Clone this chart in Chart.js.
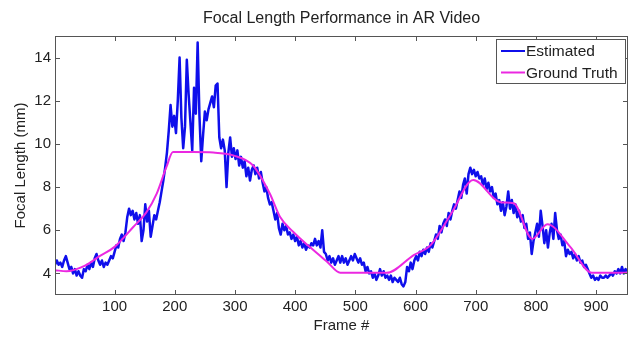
<!DOCTYPE html>
<html>
<head>
<meta charset="utf-8">
<title>Focal Length Performance in AR Video</title>
<script src="https://cdn.jsdelivr.net/npm/chart.js@4.4.1/dist/chart.umd.min.js"></script>
<style>
    html, body { margin: 0; padding: 0; background: #fff; }
    #wrap { width: 634px; height: 337px; }
</style>
</head>
<body>
<div id="wrap"><canvas id="focalChart" width="634" height="337"></canvas></div>
<script>
// Estimated focal length, every 3 frames starting at frame 1
const FRAME_START = 1;
const FRAME_STEP = 3;
const estimatedFocal = [
    4.4, 4.6, 4.4, 4.5, 4.3, 4.6, 4.8, 4.5, 4.2, 4.3,
    4.0, 4.2, 3.9, 4.1, 3.9, 3.8, 4.2, 4.1, 4.4, 4.2,
    4.5, 4.3, 4.7, 4.9, 4.6, 4.4, 4.6, 4.3, 4.5, 4.4,
    4.6, 4.8, 4.7, 5.0, 5.3, 5.2, 5.6, 5.8, 5.5, 5.9,
    6.6, 7.0, 6.7, 6.9, 6.5, 6.8, 6.3, 6.7, 5.5, 6.0,
    7.2, 6.4, 6.9, 5.7, 6.2, 6.7, 6.5, 6.9, 7.3, 7.8,
    8.3, 8.9, 9.6, 10.6, 11.8, 10.8, 11.3, 10.5, 12.0, 14.0,
    11.2, 9.8, 10.8, 13.9, 12.3, 11.0, 9.7, 12.6, 11.4, 14.7,
    11.3, 9.2, 10.4, 11.5, 11.1, 11.6, 11.9, 12.2, 11.7, 12.7,
    12.8, 10.3, 9.8, 10.2, 9.7, 8.0, 9.6, 10.3, 9.4, 9.8,
    9.3, 9.7, 9.0, 9.4, 8.9, 9.2, 8.5, 8.9, 8.3, 8.8,
    9.0, 8.6, 8.9, 8.4, 8.7, 8.2, 7.8, 8.0, 7.5, 7.2,
    7.3, 6.9, 6.5, 6.8, 6.1, 5.8, 6.3, 6.0, 6.2, 5.8,
    5.9, 5.6, 5.8, 5.5, 5.7, 5.3, 5.5, 5.2, 5.4, 5.1,
    5.3, 5.2, 5.4, 5.3, 5.6, 5.3, 5.5, 5.2, 6.0, 5.0,
    4.9, 4.6, 4.8, 4.5, 4.7, 4.4, 4.6, 4.8, 4.5, 4.8,
    4.5, 4.7, 4.4, 4.6, 4.8, 4.6, 4.9, 4.7, 4.5, 4.7,
    4.4, 4.5, 4.1, 4.3, 4.0, 4.1, 3.8, 4.0, 3.7, 3.9,
    4.2, 3.9, 4.1, 3.8, 3.9, 3.7, 3.9, 3.6, 3.8, 3.7,
    3.6, 3.8, 3.5, 3.4, 3.6, 4.3, 4.1, 4.5, 4.2, 4.6,
    4.8, 4.6, 5.0, 4.8, 5.1, 4.9, 5.2, 5.0, 5.4, 5.2,
    5.5, 5.8, 5.6, 6.2, 5.9, 6.3, 6.5, 6.2, 6.8, 6.5,
    6.9, 7.2, 7.0, 7.4, 7.8, 7.5, 8.1, 8.4, 7.7, 8.6,
    8.9, 8.6, 8.8, 8.5, 8.7, 8.4, 8.5, 8.1, 8.4, 7.9,
    8.2, 7.8, 8.0, 7.5, 7.7, 7.2, 7.4, 6.9, 7.3, 6.7,
    7.1, 7.8, 7.0, 7.4, 6.8, 7.2, 6.6, 6.9, 6.4, 6.7,
    6.1, 6.3, 5.6, 5.9, 4.9, 5.5, 5.9, 6.3, 5.7, 6.9,
    6.2, 5.4, 6.0, 5.2, 5.9, 6.3, 5.6, 6.8, 6.0, 5.6,
    5.8, 5.3, 5.5, 4.8, 5.1, 4.9, 5.0, 4.7, 4.9, 4.6,
    4.8, 4.5, 4.6, 4.3, 4.4, 4.2, 4.0, 3.8, 3.9, 3.7,
    3.8, 3.7, 3.9, 3.8, 3.8, 3.9, 3.8, 3.9, 4.0, 3.9,
    4.1, 4.0, 4.2, 4.0, 4.3, 4.0, 4.2, 4.1
];

// Ground truth is smooth, so a handful of key frames is enough
const truthFrames = [1, 20, 50, 75, 100, 131, 153, 170, 186, 197, 230, 264, 297, 330, 358, 375, 397, 424, 453, 475, 552, 597, 625, 660, 696, 741, 763, 794, 819, 857, 893, 953];
const truthFocal  = [4.15, 4.1, 4.35, 4.8, 5.23, 6.15, 6.84, 7.7, 8.92, 9.62, 9.62, 9.6, 9.47, 9.0, 7.69, 6.61, 5.92, 5.23, 4.54, 4.03, 4.03, 4.85, 5.31, 6.8, 8.33, 7.3, 7.25, 5.6, 6.28, 5.23, 4.03, 4.03];

const xTicks = [100, 200, 300, 400, 500, 600, 700, 800, 900];
const yTicks = [4, 6, 8, 10, 12, 14];
const seriesNames = ['Estimated', 'Ground Truth'];

const FONT = '"Liberation Sans", Arial, Helvetica, sans-serif';
const BLUE = 'rgb(15, 15, 235)';
const MAGENTA = 'rgb(235, 40, 225)';
const AXIS_GRAY = '#555';

// box, inward ticks, title and legend in the MATLAB look
const matlabFrame = {
    id: 'matlabFrame',
    afterDatasetsDraw(chart) {
        const { ctx, chartArea: a, scales: { x, y } } = chart;
        ctx.save();
        ctx.strokeStyle = AXIS_GRAY;
        ctx.lineWidth = 1;
        ctx.strokeRect(a.left + 0.5, a.top + 0.5, a.width - 1, a.height - 1);

        ctx.beginPath();
        xTicks.forEach(v => {
            const px = Math.round(x.getPixelForValue(v)) + 0.5;
            ctx.moveTo(px, a.bottom); ctx.lineTo(px, a.bottom - 5);
            ctx.moveTo(px, a.top); ctx.lineTo(px, a.top + 5);
        });
        yTicks.forEach(v => {
            const py = Math.round(y.getPixelForValue(v)) + 0.5;
            ctx.moveTo(a.left, py); ctx.lineTo(a.left + 5, py);
            ctx.moveTo(a.right, py); ctx.lineTo(a.right - 5, py);
        });
        ctx.stroke();

        // title
        ctx.fillStyle = '#222';
        ctx.font = '16px ' + FONT;
        ctx.textAlign = 'center';
        ctx.textBaseline = 'middle';
        ctx.fillText('Focal Length Performance in AR Video', (a.left + a.right) / 2, 19);

        // legend box, top right
        const boxW = 129, boxH = 44;
        const bx = a.right - 3 - boxW, by = a.top + 3;
        ctx.fillStyle = '#fff';
        ctx.fillRect(bx, by, boxW, boxH);
        ctx.strokeStyle = AXIS_GRAY;
        ctx.strokeRect(bx + 0.5, by + 0.5, boxW, boxH);
        ctx.font = '15.5px ' + FONT;
        ctx.textAlign = 'left';
        chart.data.datasets.forEach((ds, i) => {
            const ly = by + 12 + i * 21.5;
            ctx.strokeStyle = ds.borderColor;
            ctx.lineWidth = 2;
            ctx.beginPath();
            ctx.moveTo(bx + 5, ly);
            ctx.lineTo(bx + 29, ly);
            ctx.stroke();
            ctx.fillStyle = '#222';
            ctx.fillText(ds.label, bx + 30, ly + 1);
        });
        ctx.restore();
    }
};

function buildChart() {
    const estimatedPoints = estimatedFocal.map((v, i) => ({ x: FRAME_START + i * FRAME_STEP, y: v }));
    const truthPoints = truthFrames.map((f, i) => ({ x: f, y: truthFocal[i] }));

    const ctx = document.getElementById('focalChart').getContext('2d');
    return new Chart(ctx, {
        type: 'line',
        data: {
            datasets: [
                {
                    label: seriesNames[0],
                    data: estimatedPoints,
                    borderColor: BLUE,
                    borderWidth: 2.5,
                    borderJoinStyle: 'round',
                    pointRadius: 0,
                    tension: 0,
                    order: 1
                },
                {
                    label: seriesNames[1],
                    data: truthPoints,
                    borderColor: MAGENTA,
                    borderWidth: 2,
                    pointRadius: 0,
                    cubicInterpolationMode: 'monotone',
                    order: 0
                }
            ]
        },
        options: {
            responsive: false,
            animation: false,
            devicePixelRatio: 1,
            layout: { padding: { top: 36, right: 6, left: 0, bottom: 0 } },
            plugins: {
                legend: { display: false },
                title: { display: false },
                tooltip: { enabled: false }
            },
            scales: {
                x: {
                    type: 'linear',
                    min: 1,
                    max: 953,
                    afterBuildTicks: scale => { scale.ticks = xTicks.map(v => ({ value: v })); },
                    afterFit: scale => { scale.height = 42; },
                    grid: { display: false, drawTicks: false },
                    border: { display: false },
                    ticks: { color: '#222', font: { family: FONT, size: 15 }, padding: 3, maxRotation: 0 },
                    title: { display: true, text: 'Frame #', color: '#222', font: { family: FONT, size: 15 }, padding: { top: 0, bottom: 2 } }
                },
                y: {
                    min: 3,
                    max: 15,
                    afterBuildTicks: scale => { scale.ticks = yTicks.map(v => ({ value: v })); },
                    afterFit: scale => { scale.width = 55; },
                    grid: { display: false, drawTicks: false },
                    border: { display: false },
                    ticks: { color: '#222', font: { family: FONT, size: 15 }, padding: 4 },
                    title: { display: true, text: 'Focal Length (mm)', color: '#222', font: { family: FONT, size: 15 }, padding: { top: 12, bottom: 0 } }
                }
            }
        },
        plugins: [matlabFrame]
    });
}

document.addEventListener('DOMContentLoaded', buildChart);
</script>
</body>
</html>
